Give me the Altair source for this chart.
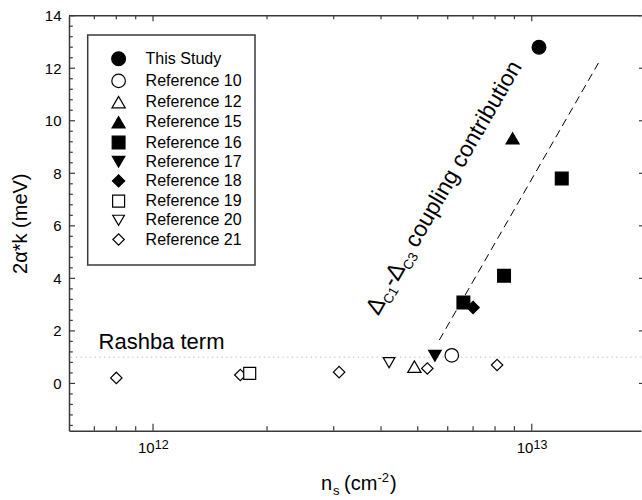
import altair as alt
import pandas as pd

# ---------------- data ----------------
series = ["This Study", "Reference 10", "Reference 12", "Reference 15", "Reference 16",
          "Reference 17", "Reference 18", "Reference 19", "Reference 20", "Reference 21"]
shapes = ["circle", "circle", "triangle-up", "triangle-up", "square",
          "triangle-down", "diamond", "square", "triangle-down", "diamond"]
fills = ["black", "white", "white", "black", "black",
         "black", "black", "white", "white", "white"]
sizes = [190, 130, 210, 210, 100, 210, 180, 90, 210, 160]

point_series = ["This Study", "Reference 15", "Reference 16", "Reference 16", "Reference 16",
                "Reference 18", "Reference 17", "Reference 10", "Reference 12",
                "Reference 21", "Reference 21", "Reference 21", "Reference 21", "Reference 21",
                "Reference 19", "Reference 20"]
ns = [1.045e13, 8.9e12, 1.2e13, 8.45e12, 6.6e12,
      7.0e12, 5.55e12, 6.15e12, 4.9e12,
      8.0e11, 1.70e12, 3.1e12, 5.3e12, 8.1e12,
      1.8e12, 4.2e12]
alpha_k = [12.8, 9.33, 7.8, 4.1, 3.08,
           2.89, 1.05, 1.07, 0.64,
           0.21, 0.32, 0.43, 0.57, 0.70,
           0.38, 0.79]

fit_ns = [5.7e12, 1.5e13]
fit_val = [1.65, 12.2]

rashba_level = 1.0
rashba_text = "Rashba term"
rashba_pos = [7.18e11, 1.31]

coupling_pos = [3.93e12, 2.56]

x_label_vals = [1e12, 1e13]
x_label_base = ["10", "10"]
x_label_exp = ["12", "13"]

x_major_ticks = [1e12, 1e13]
x_minor_ticks = [7e11, 8e11, 9e11, 2e12, 3e12, 4e12, 5e12, 6e12, 7e12, 8e12, 9e12]
y_major_ticks = [0, 2, 4, 6, 8, 10, 12, 14]
y_minor_ticks = [round(-1.6 + 0.4 * i, 1) for i in range(39) if abs((round(-1.6 + 0.4 * i, 1)) % 2) > 1e-6]

# ---------------- style ----------------
W, H = 572, 415
X_DOMAIN = [6e11, 1.943e13]
Y_DOMAIN = [-1.8, 14]
FONT = "Liberation Sans"
AX = "#3a3a3a"

xs = alt.Scale(type="log", domain=X_DOMAIN, nice=False)
ys = alt.Scale(domain=Y_DOMAIN, nice=False, zero=False)

df = pd.DataFrame({"ns": ns, "val": alpha_k, "series": point_series})

leg = alt.Legend(orient="none", legendX=41.6, legendY=35, title=None, padding=0,
                 labelFont=FONT, labelFontSize=16, labelColor="black", labelOffset=19,
                 rowPadding=2.2, symbolStrokeColor="black", symbolStrokeWidth=1.2,
                 symbolOpacity=1)

points = alt.Chart(df).mark_point(opacity=1, fillOpacity=1, strokeWidth=1.2).encode(
    x=alt.X("ns:Q", scale=xs,
            axis=alt.Axis(values=x_major_ticks, labels=False,
                          title=None, grid=False, ticks=False, domainColor=AX, domainWidth=1.5)),
    y=alt.Y("val:Q", scale=ys,
            axis=alt.Axis(values=y_major_ticks, title="2α*k (meV)", grid=False, ticks=False,
                          domainColor=AX, domainWidth=1.5, labelFont=FONT, labelFontSize=15,
                          labelColor="black", labelPadding=8, titleFont=FONT, titleFontSize=20,
                          titleFontWeight="normal", titleColor="black", titlePadding=14)),
    shape=alt.Shape("series:N", scale=alt.Scale(domain=series, range=shapes), legend=leg),
    fill=alt.Fill("series:N", scale=alt.Scale(domain=series, range=fills), legend=leg),
    stroke=alt.Stroke("series:N", scale=alt.Scale(domain=series, range=["black"] * len(series)), legend=leg),
    size=alt.Size("series:N", scale=alt.Scale(domain=series, range=sizes), legend=leg),
)

rashba = alt.Chart(pd.DataFrame({"val": [rashba_level]})).mark_rule(
    color="#b8b8b8", strokeWidth=1, strokeDash=[1.2, 3.5]).encode(y=alt.Y("val:Q", scale=ys))

fit = alt.Chart(pd.DataFrame({"ns": fit_ns, "val": fit_val})).mark_line(
    color="black", strokeWidth=1, strokeDash=[8, 5]).encode(
    x=alt.X("ns:Q", scale=xs), y=alt.Y("val:Q", scale=ys))

def xticks(vals, length, top):
    d = pd.DataFrame({"ns": vals})
    if top:
        yy, yy2 = alt.value(0), alt.value(length)
    else:
        yy, yy2 = alt.value(H), alt.value(H - length)
    return alt.Chart(d).mark_rule(color=AX, strokeWidth=1.2).encode(
        x=alt.X("ns:Q", scale=xs), y=yy, y2=yy2)

def yticks(vals, x0, x1):
    d = pd.DataFrame({"val": vals})
    return alt.Chart(d).mark_rule(color=AX, strokeWidth=1.2).encode(
        y=alt.Y("val:Q", scale=ys), x=alt.value(x0), x2=alt.value(x1))

tick_layers = [
    xticks(x_major_ticks, 7, False), xticks(x_minor_ticks, 4.5, False),
    xticks(x_major_ticks, 5.5, True), xticks(x_minor_ticks, 3.5, True),
    yticks(y_major_ticks, 0, 6), yticks(y_minor_ticks, 0, 3.8),
    yticks(y_major_ticks, W - 2, W + 2),
]

xlab_df = pd.DataFrame({"ns": x_label_vals, "base": x_label_base, "exp": x_label_exp})
xlab_base = alt.Chart(xlab_df).mark_text(
    align="right", baseline="alphabetic", font=FONT, fontSize=15, color="black", dx=1.6).encode(
    x=alt.X("ns:Q", scale=xs), y=alt.value(H + 22.6), text="base:N")
xlab_exp = alt.Chart(xlab_df).mark_text(
    align="left", baseline="alphabetic", font=FONT, fontSize=12.5, color="black", dx=1.8, dy=-4.5).encode(
    x=alt.X("ns:Q", scale=xs), y=alt.value(H + 22.6), text="exp:N")

top_border = alt.Chart(pd.DataFrame({"a": [0]})).mark_rule(color=AX, strokeWidth=1.5).encode(
    x=alt.value(0), x2=alt.value(W), y=alt.value(0))

legend_box = alt.Chart(pd.DataFrame({"a": [0]})).mark_rect(
    fillOpacity=0, stroke=AX, strokeWidth=1.5).encode(
    x=alt.value(18.7), x2=alt.value(186), y=alt.value(19.3), y2=alt.value(249.3))

rashba_lbl = alt.Chart(pd.DataFrame({"ns": [rashba_pos[0]], "val": [rashba_pos[1]], "t": [rashba_text]})).mark_text(
    align="left", baseline="alphabetic", font=FONT, fontSize=22, color="black").encode(
    x=alt.X("ns:Q", scale=xs), y=alt.Y("val:Q", scale=ys), text="t:N")

# rotated annotation pieces: (text, fontSize, dx, dy)
coupling_pieces = [("Δ", 23.5, 0, 0), ("C1", 13.5, 15.7, 5), ("-", 23.5, 32, 0),
                   ("Δ", 23.5, 39.5, 0), ("C3", 13.5, 55.2, 5), ("coupling contribution", 23, 77.5, 0)]
coupling_layers = []
for txt, fs, dx, dy in coupling_pieces:
    coupling_layers.append(
        alt.Chart(pd.DataFrame({"ns": [coupling_pos[0]], "val": [coupling_pos[1]], "t": [txt]})).mark_text(
            align="left", baseline="alphabetic", font=FONT, fontSize=fs, color="black",
            angle=300, dx=dx, dy=dy).encode(
            x=alt.X("ns:Q", scale=xs), y=alt.Y("val:Q", scale=ys), text="t:N"))

# x-axis title pieces: (text, fontSize, dx, dy)
xtitle_pieces = [("n", 20, 0, 0), ("s", 13, 12, 5), ("(cm", 20, 23, 0), ("-2", 13, 56.5, -8), (")", 20, 69, 0)]
xtitle_layers = []
for txt, fs, dx, dy in xtitle_pieces:
    xtitle_layers.append(
        alt.Chart(pd.DataFrame({"t": [txt]})).mark_text(
            align="left", baseline="alphabetic", font=FONT, fontSize=fs, color="black",
            dx=dx, dy=dy).encode(x=alt.value(252), y=alt.value(474), text="t:N"))

chart = alt.layer(
    rashba, fit, *tick_layers, xlab_base, xlab_exp, top_border, legend_box, rashba_lbl,
    *coupling_layers, *xtitle_layers, points
).properties(
    width=W, height=H,
    padding={"left": 69, "top": 15.7, "right": 1, "bottom": 69.3},
    autosize=alt.AutoSizeParams(type="none"),
    background="white",
).configure_view(stroke=None)

chart.save("out.html", embed_options={"renderer": "svg", "actions": False})
